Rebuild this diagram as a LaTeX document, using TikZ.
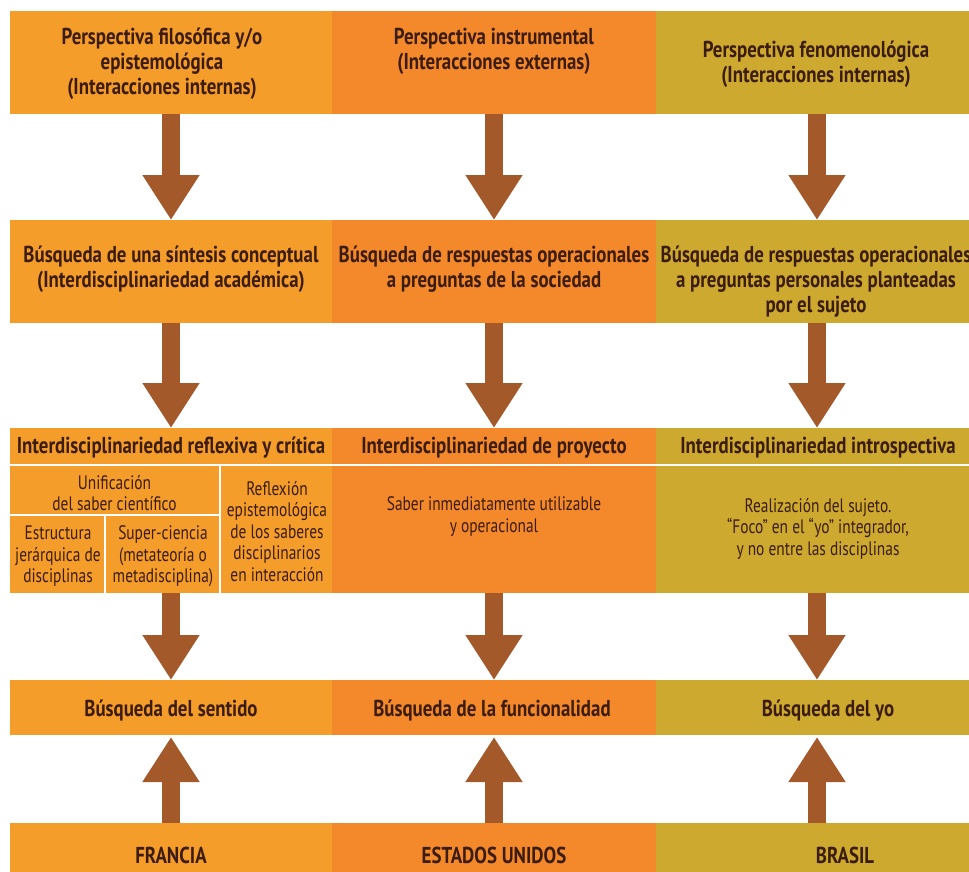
\documentclass[tikz,border=0pt]{standalone}
\usepackage{fontspec}
\setmainfont{PT Sans}
\newfontfamily\tfont{PT Sans}[FakeStretch=0.82]
\newfontfamily\bfont{PT Sans}[FakeStretch=0.79]
\usetikzlibrary{arrows.meta}
\definecolor{cA}{HTML}{F59D2A}
\definecolor{cB}{HTML}{F4892C}
\definecolor{cC}{HTML}{CDAA2F}
\definecolor{arr}{HTML}{A3592A}
\definecolor{ink}{HTML}{3B1C0E}
\tikzset{
  cell/.style={inner sep=0pt, outer sep=0pt, draw=none},
  ttl/.style={inner sep=0pt, align=center, text=ink, yshift=-2pt, font=\tfont\fontsize{23}{25}\selectfont\bfseries},
  bdy/.style={inner sep=0pt, align=center, text=ink, yshift=-1.5pt, font=\bfont\fontsize{19.5}{21.5}\selectfont},
  bigarrow/.style={draw=arr, line width=18pt, -{Triangle[width=54pt,length=45pt]}},
  sep/.style={draw=white, line width=1.6pt}
}
\begin{document}
\begin{tikzpicture}[x=1pt,y=-1pt]
\useasboundingbox (0,0) rectangle (969,872);
\fill[white] (0,0) rectangle (969,872);
\begin{scope}
\clip (0,0) rectangle (969,872);
% row 1
\node[cell, fill=cA, minimum width=322pt, minimum height=103pt] (r1a) at (171,62.5) {};
\node[cell, fill=cB, minimum width=324pt, minimum height=103pt] (r1b) at (494,62.5) {};
\node[cell, fill=cC, minimum width=322pt, minimum height=103pt] (r1c) at (817,62.5) {};
% row 2
\node[cell, fill=cA, minimum width=322pt, minimum height=103pt] (r2a) at (171,271.5) {};
\node[cell, fill=cB, minimum width=324pt, minimum height=103pt] (r2b) at (494,271.5) {};
\node[cell, fill=cC, minimum width=322pt, minimum height=103pt] (r2c) at (817,271.5) {};
% row 3 header
\node[cell, fill=cA, minimum width=322pt, minimum height=36pt] (r3a) at (171,446) {};
\node[cell, fill=cB, minimum width=324pt, minimum height=36pt] (r3b) at (494,446) {};
\node[cell, fill=cC, minimum width=322pt, minimum height=36pt] (r3c) at (817,446) {};
% row 3 body
\node[cell, fill=cA, minimum width=322pt, minimum height=127pt] (r3ba) at (171,529.5) {};
\node[cell, fill=cB, minimum width=324pt, minimum height=127pt] (r3bb) at (494,529.5) {};
\node[cell, fill=cC, minimum width=322pt, minimum height=127pt] (r3bc) at (817,529.5) {};
% row 4
\node[cell, fill=cA, minimum width=322pt, minimum height=55pt] (r4a) at (171,707.5) {};
\node[cell, fill=cB, minimum width=324pt, minimum height=55pt] (r4b) at (494,707.5) {};
\node[cell, fill=cC, minimum width=322pt, minimum height=55pt] (r4c) at (817,707.5) {};
% row 5
\node[cell, fill=cA, minimum width=322pt, minimum height=52pt] (r5a) at (171,849) {};
\node[cell, fill=cB, minimum width=324pt, minimum height=52pt] (r5b) at (494,849) {};
\node[cell, fill=cC, minimum width=322pt, minimum height=52pt] (r5c) at (817,849) {};
\end{scope}
% separators in column 1, row 3
\draw[sep] (220,466) -- (220,593);
\draw[sep] (10,515) -- (220,515);
\draw[sep] (105,515) -- (105,593);
% arrows
\foreach \c in {a,b,c}{
  \draw[bigarrow] (r1\c.south) -- (r2\c.north);
  \draw[bigarrow] (r2\c.south) -- (r3\c.north);
  \draw[bigarrow] (r3b\c.south) -- (r4\c.north);
  \draw[bigarrow, shorten >=2pt] (r5\c.north) -- (r4\c.south);
}
% texts row 1
\node[ttl] (t1a) at (162,62) {Perspectiva filosófica y/o\\epistemológica\\(Interacciones internas)};
\node[ttl] (t1b) at (494,49.5) {Perspectiva instrumental\\(Interacciones externas)};
\node[ttl] (t1c) at (816,62) {Perspectiva fenomenológica\\(Interacciones internas)};
% row 2
\node[ttl] (t2a) at (171,267) {Búsqueda de una síntesis conceptual\\(Interdisciplinariedad académica)};
\node[ttl] (t2b) at (494,267) {Búsqueda de respuestas operacionales\\a preguntas de la sociedad};
\node[ttl] (t2c) at (816,280) {Búsqueda de respuestas operacionales\\a preguntas personales planteadas\\por el sujeto};
% row 3 headers
\node[ttl] (t3a) at (171,446) {Interdisciplinariedad reflexiva y crítica};
\node[ttl] (t3b) at (494,446) {Interdisciplinariedad de proyecto};
\node[ttl] (t3c) at (818,446) {Interdisciplinariedad introspectiva};
% row 3 bodies
\node[bdy] (s1) at (114.5,491.5) {Unificación\\del saber científico};
\node[bdy] (s2) at (58,555) {Estructura\\jerárquica de\\disciplinas};
\node[bdy] (s3) at (163,555) {Super-ciencia\\(metateoría o\\metadisciplina)};
\node[bdy] (s4) at (277,530) {Reflexión\\epistemológica\\de los saberes\\disciplinarios\\en interacción};
\node[bdy] (s5) at (494,515) {Saber inmediatamente utilizable\\y operacional};
\node[bdy] (s6) at (818,527) {Realización del sujeto.\\“Foco” en el “yo” integrador,\\y no entre las disciplinas};
% row 4
\node[ttl] (t4a) at (171,709) {Búsqueda del sentido};
\node[ttl] (t4b) at (492,709) {Búsqueda de la funcionalidad};
\node[ttl] (t4c) at (828,709) {Búsqueda del yo};
% row 5
\node[ttl] (t5a) at (171,853) {FRANCIA};
\node[ttl] (t5b) at (494,853) {ESTADOS UNIDOS};
\node[ttl] (t5c) at (845,853) {BRASIL};
\end{tikzpicture}
\end{document}
